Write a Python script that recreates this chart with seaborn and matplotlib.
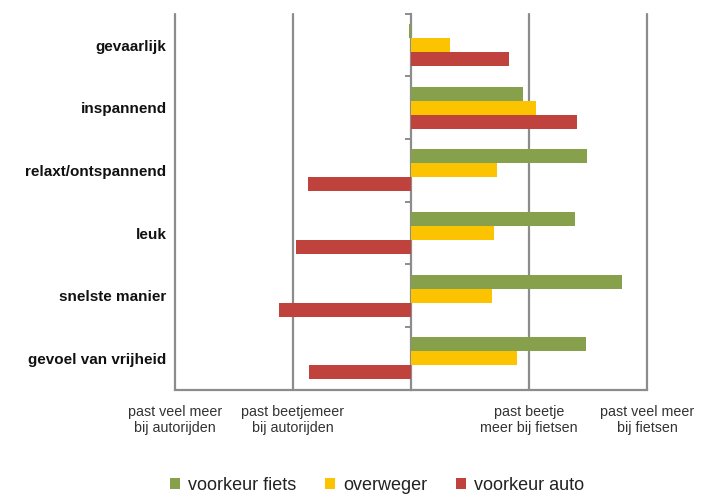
import seaborn as sns
import pandas as pd
import matplotlib.pyplot as plt

categories = ["gevaarlijk", "inspannend", "relaxt/ontspannend", "leuk",
              "snelste manier", "gevoel van vrijheid"]
series = ["voorkeur fiets", "overweger", "voorkeur auto"]
fiets = [-0.02, 0.95, 1.49, 1.39, 1.79, 1.48]
overweger = [0.33, 1.06, 0.73, 0.705, 0.69, 0.90]
auto = [0.83, 1.41, -0.87, -0.97, -1.12, -0.86]
xtick_vals = [-2, -1, 0, 1, 2]
xtick_labels = ["past veel meer\nbij autorijden", "past beetjemeer\nbij autorijden", "",
                "past beetje\nmeer bij fietsen", "past veel meer\nbij fietsen"]

fiets_color = "#86a04c"
overweger_color = "#fcc300"
auto_color = "#c0423c"

df = pd.DataFrame({
    "categorie": categories * 3,
    "groep": [series[0]] * 6 + [series[1]] * 6 + [series[2]] * 6,
    "score": fiets + overweger + auto,
})

sns.set_style("white")
plt.rcParams["font.family"] = ["Liberation Sans", "DejaVu Sans"]

fig = plt.figure(figsize=(7.11, 4.94), dpi=100)
ax = fig.add_axes([0.246, 0.211, 0.664, 0.761])

sns.barplot(data=df, y="categorie", x="score", hue="groep", orient="h",
            palette=[fiets_color, overweger_color, auto_color], saturation=1,
            width=0.67, gap=0, order=categories, hue_order=series,
            linewidth=0, ax=ax, legend=True)

grid_c = "#8c8c8c"
ax.set_xlim(-2, 2)
ax.set_ylim(5.5, -0.5)
for v in [-2, -1, 1, 2]:
    ax.axvline(v, color=grid_c, lw=1.6, zorder=0, clip_on=False)

ax.set_xticks(xtick_vals)
ax.set_xticklabels(xtick_labels, fontsize=10.3, color="#333333", linespacing=1.15)
ax.tick_params(axis="x", length=6, width=1.4, color=grid_c, pad=5, direction="out")
ax.tick_params(axis="y", length=0, pad=6)
for lbl in ax.get_yticklabels():
    lbl.set_fontweight("bold")
    lbl.set_fontsize(11)
    lbl.set_color("#111111")
ax.set_xlabel("")
ax.set_ylabel("")

for s in ["top", "right", "left"]:
    ax.spines[s].set_visible(False)
ax.spines["bottom"].set_color(grid_c)
ax.spines["bottom"].set_linewidth(1.6)

# zero line with category boundary ticks
sec = ax.secondary_yaxis(0.5)
sec.set_yticks([-0.5, 0.5, 1.5, 2.5, 3.5, 4.5, 5.5])
sec.set_yticklabels([""] * 7)
sec.tick_params(length=4, width=1.4, color=grid_c, direction="in")
for sp in sec.spines.values():
    sp.set_color(grid_c)
    sp.set_linewidth(1.6)

handles, labels = ax.get_legend_handles_labels()
ax.legend(handles, labels, loc="center", bbox_to_anchor=(0.53, 0.018),
          bbox_transform=fig.transFigure, ncol=3, frameon=False,
          handlelength=0.55, handleheight=0.55, handletextpad=0.45,
          columnspacing=1.6, fontsize=13, labelcolor="#222222")

fig.savefig("out.png", dpi=100)
